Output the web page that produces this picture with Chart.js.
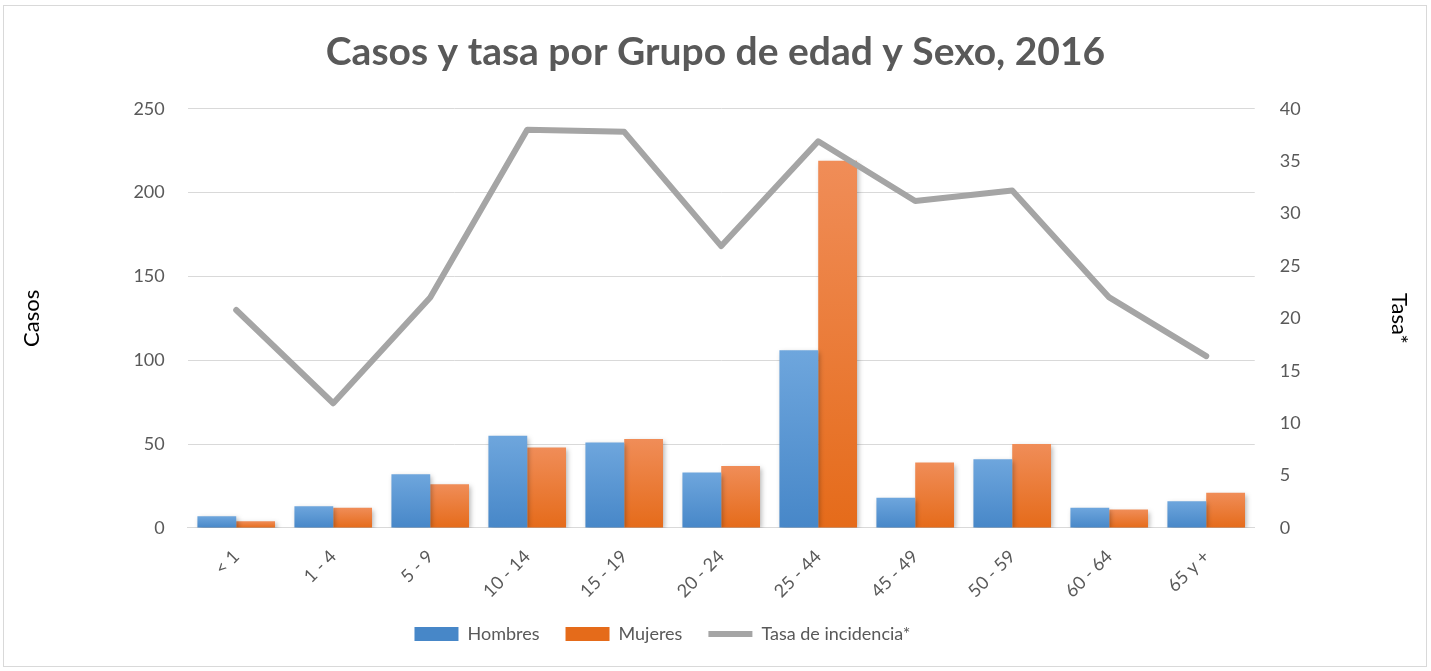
<!DOCTYPE html>
<html>
<head>
<meta charset="utf-8">
<script src="https://cdn.jsdelivr.net/npm/chart.js@4.4.0/dist/chart.umd.min.js"></script>
<style>
  html, body { margin: 0; padding: 0; background: #fff; }
  #wrap { position: absolute; left: 3px; top: 5px; width: 1422px; height: 660px; border: 1px solid #d9d9d9; }
  #box { position: absolute; left: 0; top: 0; width: 1431px; height: 671px; }
</style>
</head>
<body>
<div id="wrap"></div>
<div id="box"><canvas id="chart" width="1431" height="671"></canvas></div>
<script>
// data
const categories = ['< 1', '1 - 4', '5 - 9', '10 - 14', '15 - 19', '20 - 24', '25 - 44', '45 - 49', '50 - 59', '60 - 64', '65 y +'];
const hombres = [7, 13, 32, 55, 51, 33, 106, 18, 41, 12, 16];
const mujeres = [4, 12, 26, 48, 53, 37, 219, 39, 50, 11, 21];
const tasa = [20.8, 11.9, 22, 38, 37.8, 26.9, 36.9, 31.2, 32.2, 22, 16.4];
const casosTicks = [0, 50, 100, 150, 200, 250];
const tasaTicks = [0, 5, 10, 15, 20, 25, 30, 35, 40];

const FONT = "Lato, 'Open Sans', sans-serif";
const GREY = '#595959';

// gradient per bar, lighter on top
function barGradient(top, bottom) {
  return (c) => {
    const chart = c.chart;
    if (!chart.chartArea || c.parsed == null) return bottom;
    const y = chart.scales.y;
    const y0 = y.getPixelForValue(0);
    const y1 = y.getPixelForValue(c.parsed.y);
    if (!isFinite(y0) || !isFinite(y1) || y0 === y1) return bottom;
    const g = chart.ctx.createLinearGradient(0, y1, 0, y0);
    g.addColorStop(0, top);
    g.addColorStop(1, bottom);
    return g;
  };
}

// soft shadow under the bars
const barShadow = {
  id: 'barShadow',
  beforeDatasetDraw(chart, args) {
    if (args.meta.type !== 'bar') return;
    const ctx = chart.ctx;
    ctx.save();
    ctx.shadowColor = 'rgba(0,0,0,0.3)';
    ctx.shadowBlur = 5;
    ctx.shadowOffsetX = 2;
    ctx.shadowOffsetY = 2;
  },
  afterDatasetDraw(chart, args) {
    if (args.meta.type !== 'bar') return;
    chart.ctx.restore();
  }
};

// legend sits a bit left of centre in the original
const legendShift = {
  id: 'legendShift',
  afterLayout(chart) {
    const lg = chart.legend;
    lg.left -= 53;
    lg.right -= 53;
  }
};

const ctx = document.getElementById('chart').getContext('2d');
new Chart(ctx, {
  data: {
    labels: categories,
    datasets: [
      {
        type: 'bar',
        label: 'Hombres',
        data: hombres,
        yAxisID: 'y',
        order: 1,
        backgroundColor: barGradient('#6ea6dd', '#4787c8'),
        pointStyle: 'rect',
        categoryPercentage: 0.8,
        barPercentage: 1.0
      },
      {
        type: 'bar',
        label: 'Mujeres',
        data: mujeres,
        yAxisID: 'y',
        order: 1,
        backgroundColor: barGradient('#f08d58', '#e56b1a'),
        pointStyle: 'rect',
        categoryPercentage: 0.8,
        barPercentage: 1.0
      },
      {
        type: 'line',
        label: 'Tasa de incidencia*',
        data: tasa,
        yAxisID: 'y1',
        order: 0,
        borderColor: '#a5a5a5',
        backgroundColor: '#a5a5a5',
        borderWidth: 6,
        borderCapStyle: 'round',
        borderJoinStyle: 'round',
        pointRadius: 0,
        pointStyle: 'line',
        tension: 0
      }
    ]
  },
  options: {
    responsive: false,
    animation: false,
    layout: { padding: { left: 0, right: 0, top: 18, bottom: 18 } },
    plugins: {
      title: {
        display: true,
        text: 'Casos y tasa por Grupo de edad y Sexo, 2016',
        color: GREY,
        font: { family: FONT, size: 39, weight: 'bold' },
        padding: { top: 11, bottom: 33 }
      },
      legend: {
        position: 'bottom',
        labels: {
          color: GREY,
          font: { family: FONT, size: 18 },
          usePointStyle: true,
          pointStyleWidth: 44,
          boxHeight: 14,
          padding: 26,
          sort: (a, b) => a.datasetIndex - b.datasetIndex
        }
      },
      tooltip: { enabled: false }
    },
    scales: {
      x: {
        grid: { display: false, drawTicks: false },
        border: { display: true, color: '#d9d9d9', width: 1 },
        ticks: {
          color: GREY,
          font: { family: FONT, size: 18 },
          maxRotation: 45,
          minRotation: 45,
          padding: 18
        },
        afterFit: (s) => { s.height -= 21; }
      },
      y: {
        position: 'left',
        min: 0,
        max: 250,
        afterBuildTicks: (s) => { s.ticks = casosTicks.map(v => ({ value: v })); },
        grid: { color: '#d9d9d9', drawTicks: false },
        border: { display: false },
        ticks: { color: GREY, font: { family: FONT, size: 18 }, padding: 23 },
        title: {
          display: true,
          text: 'Casos',
          color: '#000',
          font: { family: FONT, size: 22 },
          padding: { top: 19, bottom: 65 }
        }
      },
      y1: {
        position: 'right',
        min: 0,
        max: 40,
        afterBuildTicks: (s) => { s.ticks = tasaTicks.map(v => ({ value: v })); },
        grid: { display: false, drawTicks: false },
        border: { display: false },
        ticks: { color: GREY, font: { family: FONT, size: 18 }, padding: 25 },
        title: {
          display: true,
          text: 'Tasa*',
          color: '#000',
          font: { family: FONT, size: 22 },
          padding: { top: 19, bottom: 60 }
        }
      }
    }
  },
  plugins: [barShadow, legendShift]
});
</script>
</body>
</html>
